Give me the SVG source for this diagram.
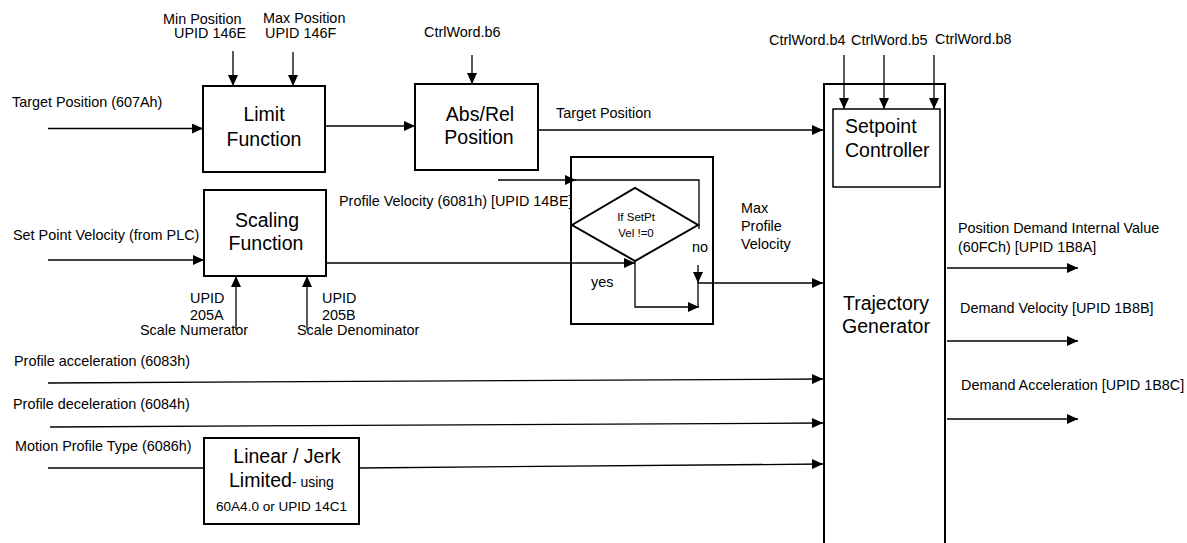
<svg xmlns="http://www.w3.org/2000/svg" width="1187" height="543" viewBox="0 0 1187 543">
<style>
text{font-family:"Liberation Sans",Arial,sans-serif;fill:#000}
.lbl{font-size:14.4px}
.big{font-size:19.5px}
.sm{font-size:11.5px}
.box{fill:#fff;stroke:#000;stroke-width:2}
.ln{fill:none;stroke:#000;stroke-width:1.3}
.arr{marker-end:url(#ah)}
</style>
<defs>
<marker id="ah" markerUnits="userSpaceOnUse" markerWidth="12" markerHeight="10" refX="11" refY="5" orient="auto">
<path d="M0,0 L11,5 L0,10 Z" fill="#000"/>
</marker>
</defs>
<rect width="1187" height="543" fill="#fff"/>

<g id="connectors">
<path class="ln arr" d="M48,128.5 H203"/>
<path class="ln arr" d="M233,51 V86"/>
<path class="ln arr" d="M293,52 V86"/>
<path class="ln arr" d="M325,126 H415"/>
<path class="ln arr" d="M472,55 V84"/>
<path class="ln arr" d="M538,130 H823"/>
<path class="ln arr" d="M844,55 V109"/>
<path class="ln arr" d="M884,55 V109"/>
<path class="ln arr" d="M934,55 V109"/>
<path class="ln arr" d="M48,260 H204"/>
<path class="ln arr" d="M236,330 V276"/>
<path class="ln arr" d="M307,330 V276"/>
<path class="ln arr" d="M498,180 H576"/>
<path class="ln" d="M575,180 H699 V229"/>
<path class="ln arr" d="M326,263 H635"/>
<path class="ln arr" d="M635,261 V307 H699"/>
<path class="ln arr" d="M698,265 V283"/>
<path class="ln" d="M698,282 V307"/>
<path class="ln arr" d="M698,283 H823"/>
<path class="ln arr" d="M947,268 H1078"/>
<path class="ln arr" d="M947,341 H1078"/>
<path class="ln arr" d="M947,419 H1078"/>
<path class="ln arr" d="M48,383 L823,379"/>
<path class="ln arr" d="M50,427 L823,423"/>
<path class="ln" d="M48,468 H204"/>
<path class="ln arr" d="M359,468 L823,464"/>
</g>

<g id="labels">
<text class="lbl" x="163" y="24">Min Position</text>
<text class="lbl" x="174" y="38">UPID 146E</text>
<text class="lbl" x="263" y="23">Max Position</text>
<text class="lbl" x="265" y="38">UPID 146F</text>
<text class="lbl" x="12" y="107">Target Position (607Ah)</text>
<text class="lbl" x="424" y="37">CtrlWord.b6</text>
<text class="lbl" x="556" y="118">Target Position</text>
<text class="lbl" x="769" y="45">CtrlWord.b4</text>
<text class="lbl" x="851" y="45">CtrlWord.b5</text>
<text class="lbl" x="935" y="44">CtrlWord.b8</text>
<text class="lbl" x="13" y="240">Set Point Velocity (from PLC)</text>
<text class="lbl" x="339" y="206">Profile Velocity (6081h) [UPID 14BE]</text>
<text class="lbl" x="190" y="303">UPID</text>
<text class="lbl" x="190" y="320">205A</text>
<text class="lbl" x="140" y="335">Scale Numerator</text>
<text class="lbl" x="322" y="303">UPID</text>
<text class="lbl" x="322" y="320">205B</text>
<text class="lbl" x="297" y="335">Scale Denominator</text>
<text class="lbl" x="692" y="252">no</text>
<text class="lbl" x="591" y="287">yes</text>
<text class="lbl" x="741" y="213">Max</text>
<text class="lbl" x="741" y="231">Profile</text>
<text class="lbl" x="741" y="249">Velocity</text>
<text class="lbl" x="958" y="233">Position Demand Internal Value</text>
<text class="lbl" x="958" y="252">(60FCh) [UPID 1B8A]</text>
<text class="lbl" x="960" y="313">Demand Velocity [UPID 1B8B]</text>
<text class="lbl" x="961" y="390">Demand Acceleration [UPID 1B8C]</text>
<text class="lbl" x="14" y="366">Profile acceleration (6083h)</text>
<text class="lbl" x="13" y="409">Profile deceleration (6084h)</text>
<text class="lbl" x="15" y="451">Motion Profile Type (6086h)</text>
</g>

<g id="limit-function">
<rect class="box" x="203" y="86" width="122" height="86"/>
<text class="big" x="264" y="121" text-anchor="middle">Limit</text>
<text class="big" x="264" y="146" text-anchor="middle">Function</text>
</g>

<g id="abs-rel-position">
<rect class="box" x="415" y="84" width="123" height="86"/>
<text class="big" x="480" y="121" text-anchor="middle">Abs/Rel</text>
<text class="big" x="479" y="144" text-anchor="middle">Position</text>
</g>

<g id="scaling-function">
<rect class="box" x="204" y="190" width="122" height="86"/>
<text class="big" x="267" y="227" text-anchor="middle">Scaling</text>
<text class="big" x="266" y="250" text-anchor="middle">Function</text>
</g>

<g id="decision">
<rect x="571" y="157" width="142" height="167" fill="none" stroke="#000" stroke-width="2"/>
<polygon points="572,225 635,188 698,225 635,261" fill="none" stroke="#000" stroke-width="2"/>
<text class="sm" x="636" y="221" text-anchor="middle">If SetPt</text>
<text class="sm" x="636" y="237" text-anchor="middle">Vel !=0</text>
</g>

<g id="trajectory-generator">
<path d="M824,548 V84 H945 V548" fill="none" stroke="#000" stroke-width="2"/>
<text class="big" x="886" y="310" text-anchor="middle">Trajectory</text>
<text class="big" x="886" y="333" text-anchor="middle">Generator</text>
</g>

<g id="setpoint-controller">
<rect x="833" y="109" width="107" height="78" fill="#fff" stroke="#000" stroke-width="1.5"/>
<text class="big" x="845" y="133">Setpoint</text>
<text class="big" x="845" y="157">Controller</text>
</g>

<g id="linear-jerk">
<rect class="box" x="204" y="438" width="155" height="86"/>
<text class="big" x="287" y="463" text-anchor="middle">Linear / Jerk</text>
<text x="229" y="487"><tspan class="big">Limited</tspan><tspan style="font-size:14px">- using</tspan></text>
<text x="216" y="511" style="font-size:13.5px" textLength="131" lengthAdjust="spacingAndGlyphs">60A4.0 or UPID 14C1</text>
</g>
</svg>
